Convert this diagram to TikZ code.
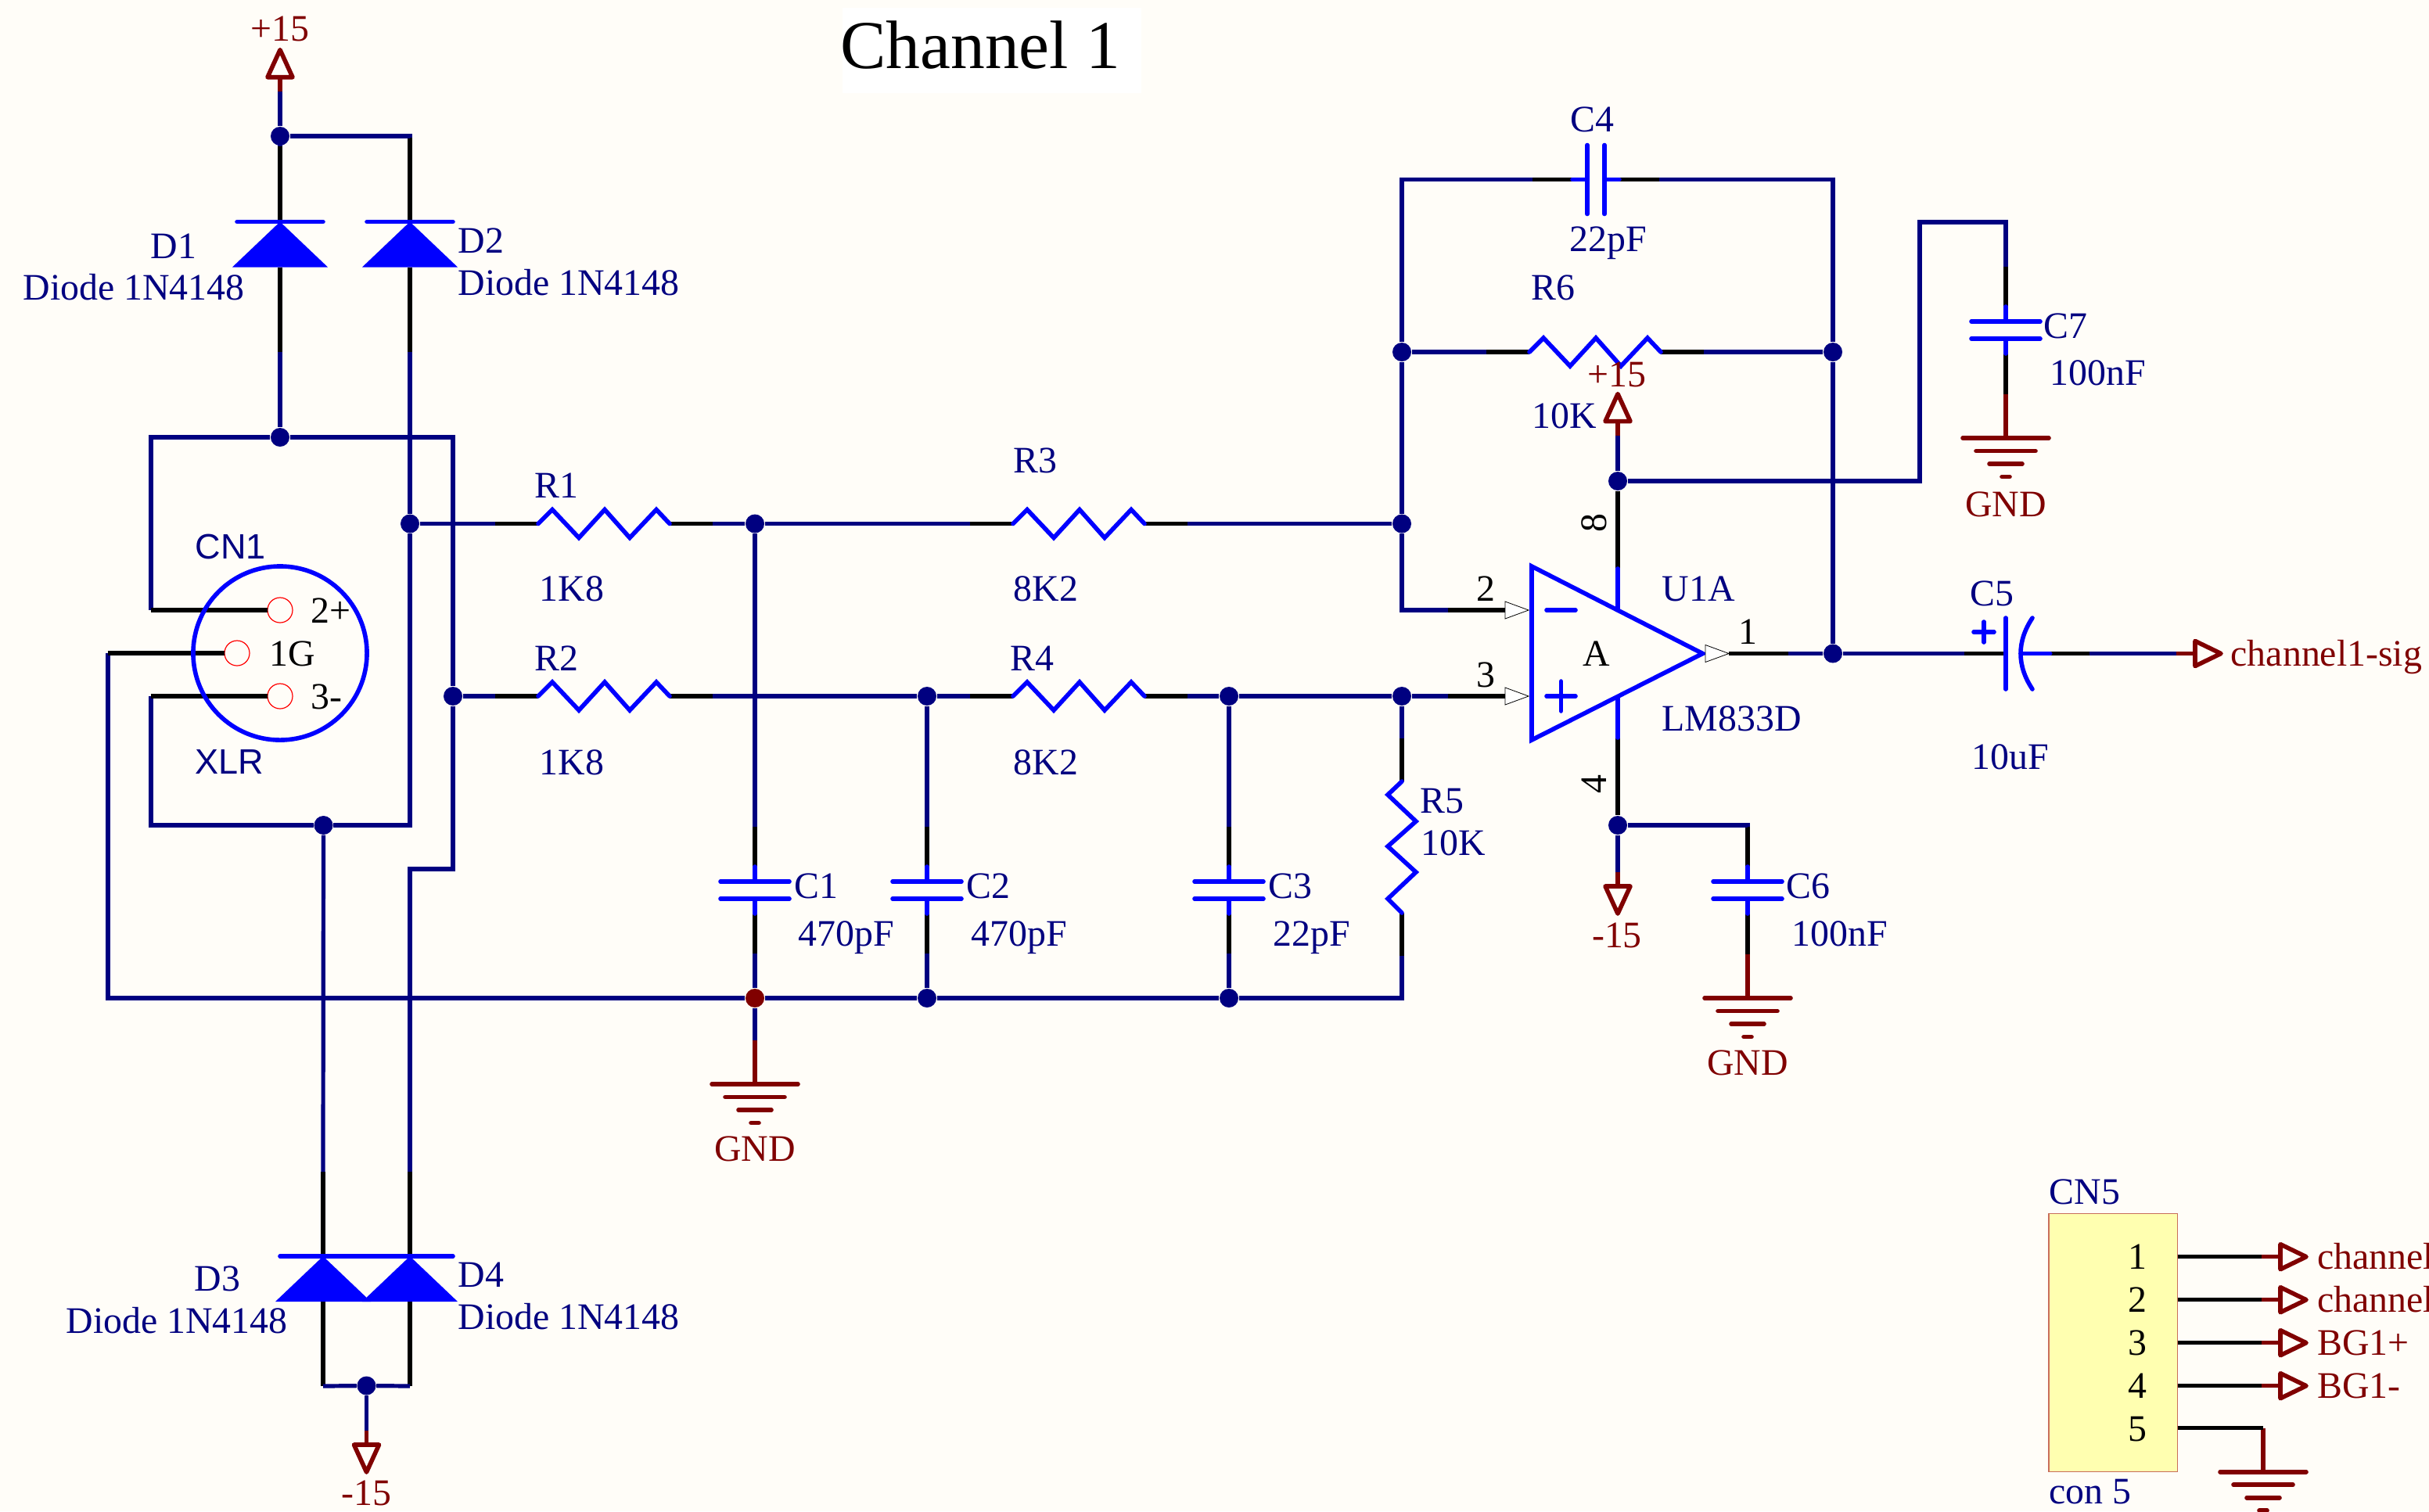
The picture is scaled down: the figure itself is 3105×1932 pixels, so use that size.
\documentclass[tikz,border=0pt]{standalone}
\usepackage{xcolor}
\usepackage{fontspec}
\setmainfont{Liberation Serif}
\setsansfont{Liberation Sans}
\usepackage{tikz}
\definecolor{wirecol}{RGB}{0,0,128}
\definecolor{netcol}{RGB}{128,0,0}
\definecolor{pagecol}{RGB}{255,253,248}
\definecolor{cnfill}{RGB}{255,255,176}
\definecolor{cnline}{RGB}{200,110,90}

\begin{document}
\begin{tikzpicture}[
    x=0.01cm, y=-0.01cm,
    wire/.style={draw=wirecol, line width=0.052cm},
    lead/.style={draw=black, line width=0.052cm},
    part/.style={draw=blue, line width=0.056cm, line cap=round},
    stem/.style={draw=netcol, line width=0.052cm},
    netsym/.style={draw=netcol, line width=0.056cm, line cap=round, line join=round},
    dot/.style={circle, fill=wirecol, inner sep=0pt, minimum size=0.24cm},
    lbl/.style={inner sep=0pt, yshift=-0.005cm, text=wirecol, text height=0.31cm, text depth=0pt, font=\fontsize{13.6}{15}\selectfont},
    dlbl/.style={lbl, anchor=west},
    sans/.style={lbl, anchor=west, font=\sffamily\fontsize{12.8}{15}\selectfont},
    net/.style={lbl, text=netcol},
    num/.style={lbl, text=black},
    hole/.style={circle, draw=red, line width=0.012cm, inner sep=0pt, outer sep=0pt, minimum size=0.32cm},
    res/.pic={
        \draw[lead] (-55,0) coordinate (-a) -- (0,0);
        \draw[lead] (168,0) -- (223,0) coordinate (-b);
        \draw[part] (0,0) -- (18,-18) -- (52,18) -- (85,-18) -- (117,18) -- (151,-18) -- (168,0);
    },
    capac/.pic={
        \draw[lead] (0,-81) coordinate (-a) -- (0,-30);
        \draw[lead] (0,30) -- (0,81) coordinate (-b);
        \draw[part] (0,-30) -- (0,-11) (-44,-11) -- (44,-11) (-44,11) -- (44,11) (0,11) -- (0,30);
    },
    diode/.pic={
        \draw[lead] (0,-108) coordinate (-a) -- (0,0);
        \draw[lead] (0,58) -- (0,166) coordinate (-b);
        \fill[blue] (0,0) -- (-61,58) -- (61,58) -- cycle;
        \draw[part] (-55,0) -- (55,0);
    },
    gnd/.pic={
        \draw[stem] (0,-56) coordinate (-a) -- (0,0);
        \foreach \y/\w in {0/55,16.5/38,33/21,49.5/5} \draw[netsym] (-\w,\y) -- (\w,\y);
    },
    port/.pic={
        \draw[stem] (0,18) coordinate (-a) -- (0,0);
        \draw[netsym] (-16,0) -- (16,0) -- (0,-35) -- cycle;
    },
    sigport/.pic={
        \draw[stem] (-24,0) coordinate (-a) -- (0,0);
        \draw[netsym] (0,-16) -- (33,0) -- (0,16) -- cycle;
    },
    tick/.pic={
        \draw[draw=black, fill=white, line width=0.008cm] (0,-11) -- (30,0) -- (0,11) -- cycle;
    }
]
    \fill[pagecol] (0,0) rectangle (3105,1932);
    \useasboundingbox (0,0) rectangle (3105,1932);

    \fill[white] (1077,10) rectangle (1459,119);
    \node[inner sep=0pt, font=\fontsize{24.9}{28}\selectfont] at (1253,58) (title) {Channel 1};

    \pic (dio1) at (358,283.5) {diode};
    \pic (dio2) at (524,283.5) {diode};
    \pic (dio3) at (413,1606) {diode};
    \pic (dio4) at (524,1606) {diode};
    \pic (res1) at (688,669.5) {res};
    \pic (res2) at (688,890) {res};
    \pic (res3) at (1295,669.5) {res};
    \pic (res4) at (1295,890) {res};
    \pic[rotate=90] (res5) at (1792,1167) {res};
    \pic (res6) at (1955,450) {res};
    \pic (cap1) at (965,1138) {capac};
    \pic (cap2) at (1185,1138) {capac};
    \pic (cap3) at (1571,1138) {capac};
    \pic[rotate=90] (cap4) at (2040,229.5) {capac};
    \pic (cap6) at (2234,1138) {capac};
    \pic (cap7) at (2564,422) {capac};
    \pic (gnd1) at (965,1386) {gnd};
    \pic (gnd2) at (2234,1276) {gnd};
    \pic (gnd3) at (2564,560) {gnd};
    \pic (gnd4) at (2893,1881.7) {gnd};
    \pic (pwr1) at (358,98.7) {port};
    \pic[rotate=180] (pwr2) at (468.5,1847) {port};
    \pic (pwr3) at (2068,538.6) {port};
    \pic[rotate=180] (pwr4) at (2068,1133) {port};
    \pic (sigout) at (2806,835.5) {sigport};

    \node[dot] at (358,174) (ja) {};
    \node[dot] at (358,559) (jb) {};
    \node[dot] at (524,669.5) (jc) {};
    \node[dot] at (579,890) (jd) {};
    \node[dot] at (413.5,1055) (je) {};
    \node[dot] at (468.5,1771.5) (jf) {};
    \node[dot] at (965,669.5) (jg) {};
    \node[dot] at (1185,890) (jh) {};
    \node[dot] at (1571,890) (ji) {};
    \node[dot] at (1792,890) (jj) {};
    \node[dot] at (1792,669.5) (jk) {};
    \node[dot] at (1792,450) (jl) {};
    \node[dot] at (2343,450) (jm) {};
    \node[dot] at (2343,835.5) (jn) {};
    \node[dot] at (2068,615) (jo) {};
    \node[dot] at (2068,1055) (jp) {};
    \node[dot, fill=netcol] at (965,1276) (jq) {};
    \node[dot] at (1185,1276) (jr) {};
    \node[dot] at (1571,1276) (js) {};

    \coordinate (cn2) at (193,780);
    \coordinate (cn1) at (138,835);
    \coordinate (cn3) at (193,890);
    \coordinate (ua) at (1851,780);
    \coordinate (ub) at (1851,890);
    \coordinate (uc) at (1924,780);
    \coordinate (ud) at (1924,890);
    \coordinate (ue) at (2210,835.5);
    \coordinate (uf) at (2286,835.5);
    \coordinate (ug) at (2511,835.5);
    \coordinate (uh) at (2068,727);
    \coordinate (ui) at (2068,779);
    \coordinate (uj) at (2068,891);
    \coordinate (uk) at (2068,943);
    \coordinate (bypass) at (2454,284);
    \coordinate (cfa) at (2564,835.5);
    \coordinate (cfb) at (2620.7,835.5);
    \coordinate (cfc) at (2671,835.5);

    \draw[wire] (pwr1-a) -- (ja);
    \draw[wire] (ja) -| (dio2-a);
    \draw[wire] (ja) -- (dio1-a);
    \draw[wire] (dio1-b) -- (jb);
    \draw[wire] (dio2-b) -- (jc);
    \draw[wire] (jb) -| (jd);
    \draw[wire] (jb) -| (cn2);
    \draw[wire] (jd) -- ++(0,221) -| (dio4-a);
    \draw[wire] (cn3) |- (je);
    \draw[wire] (je) -| (jc);
    \draw[wire] (je) -- (dio3-a);
    \draw[wire] (dio3-b) -- (jf);
    \draw[wire] (dio4-b) -- (jf);
    \draw[wire] (jf) -- (pwr2-a);
    \draw[wire] (cn1) |- (jq);
    \draw[wire] (jq) -- (jr);
    \draw[wire] (jr) -- (js);
    \draw[wire] (js) -| (res5-a);
    \draw[wire] (jc) -- (res1-a);
    \draw[wire] (res1-b) -- (jg);
    \draw[wire] (jg) -- (res3-a);
    \draw[wire] (res3-b) -- (jk);
    \draw[wire] (jd) -- (res2-a);
    \draw[wire] (res2-b) -- (jh);
    \draw[wire] (jh) -- (res4-a);
    \draw[wire] (res4-b) -- (ji);
    \draw[wire] (ji) -- (jj);
    \draw[wire] (jj) -- (ub);
    \draw[wire] (jj) -- (res5-b);
    \draw[wire] (jg) -- (cap1-a);
    \draw[wire] (cap1-b) -- (jq);
    \draw[wire] (jq) -- (gnd1-a);
    \draw[wire] (jh) -- (cap2-a);
    \draw[wire] (cap2-b) -- (jr);
    \draw[wire] (ji) -- (cap3-a);
    \draw[wire] (cap3-b) -- (js);
    \draw[wire] (jk) -- (jl);
    \draw[wire] (jk) |- (ua);
    \draw[wire] (jl) |- (cap4-a);
    \draw[wire] (cap4-b) -| (jm);
    \draw[wire] (jl) -- (res6-a);
    \draw[wire] (res6-b) -- (jm);
    \draw[wire] (jm) -- (jn);
    \draw[wire] (uf) -- (jn);
    \draw[wire] (jn) -- (ug);
    \draw[wire] (pwr3-a) -- (jo);
    \draw[wire] (jo) -| (bypass) -| (cap7-a);
    \draw[wire] (jp) -| (cap6-a);
    \draw[wire] (jp) -- (pwr4-a);
    \draw[wire] (cfc) -- (sigout-a);

    \draw[lead] (ua) -- (uc);
    \draw[lead] (ub) -- (ud);
    \draw[lead] (ue) -- (uf);
    \draw[lead] (ug) -- (cfa);
    \draw[lead] (cfb) -- (cfc);
    \draw[lead] (jo) -- (uh);
    \draw[lead] (uk) -- (jp);
    \draw[lead] (cap6-b) -- (gnd2-a);
    \draw[lead] (cap7-b) -- (gnd3-a);

    \draw[part] (uh) -- (ui);
    \draw[part] (uj) -- (uk);
    \draw[part] (1958,724) -- (2176.5,835.5) -- (1958,946) -- cycle;
    \draw[part] (1977,780) -- (2014,780);
    \draw[part] (1977,890) -- (2014,890) (1995.5,871) -- (1995.5,909);
    \pic (tk2) at (uc) {tick};
    \pic (tk3) at (ud) {tick};
    \pic (tk1) at (2180,835.5) {tick};

    \draw[part] (2564,790) -- (2564,881);
    \draw[part] (2598,790) .. controls (2578,820) and (2578,851) .. (2598,881);
    \draw[part] (2583.5,835.5) -- (cfb);
    \draw[part] (2523,808) -- (2549,808) (2536,795) -- (2536,821);

    \node[hole] at (358,780) (pin2) {};
    \node[hole] at (303,835) (pin1) {};
    \node[hole] at (358,890) (pin3) {};
    \draw[lead] (cn2) -- (pin2);
    \draw[lead] (cn1) -- (pin1);
    \draw[lead] (cn3) -- (pin3);
    \node[circle, draw=blue, line width=0.056cm, inner sep=0pt, outer sep=0pt, minimum size=2.22cm] at (358,835) (xlr) {};

    \node[num, anchor=west] at (397,780) (t2) {2+};
    \node[num, anchor=west] at (344,835) (t1) {1G};
    \node[num, anchor=west] at (397,890) (t3) {3-};
    \node[sans] at (249,698) (cn1name) {CN1};
    \node[sans] at (249,973) (cn1type) {XLR};

    \node[net] at (358,36) (vp1) {+15};
    \node[net] at (468.5,1908) (vm1) {-15};
    \node[net] at (2067,478) (vp2) {+15};
    \node[net] at (2067,1195) (vm2) {-15};
    \node[net] at (965,1468) (glbl1) {GND};
    \node[net] at (2234,1358) (glbl2) {GND};
    \node[net] at (2564,644) (glbl3) {GND};
    \node[net, anchor=west] at (2851,835) (sigl) {channel1-sig};

    \node[lbl] at (222,314) (d1) {D1};
    \node[dlbl] at (29,367) (d1v) {Diode 1N4148};
    \node[lbl, anchor=west] at (585,307) (d2) {D2};
    \node[dlbl] at (585,361) (d2v) {Diode 1N4148};
    \node[lbl] at (278,1634) (d3) {D3};
    \node[dlbl] at (84,1688) (d3v) {Diode 1N4148};
    \node[lbl, anchor=west] at (585,1629) (d4) {D4};
    \node[dlbl] at (585,1683) (d4v) {Diode 1N4148};

    \node[lbl] at (711,620) (r1) {R1};
    \node[lbl] at (731,752) (r1v) {1K8};
    \node[lbl] at (711,841) (r2) {R2};
    \node[lbl] at (731,974) (r2v) {1K8};
    \node[lbl] at (1323,588) (r3) {R3};
    \node[lbl] at (1337,752) (r3v) {8K2};
    \node[lbl] at (1319,841) (r4) {R4};
    \node[lbl] at (1337,974) (r4v) {8K2};
    \node[lbl, anchor=west] at (1815,1023) (r5) {R5};
    \node[lbl, anchor=west] at (1816,1077) (r5v) {10K};
    \node[lbl] at (1985,367) (r6) {R6};
    \node[lbl] at (2000,531) (r6v) {10K};

    \node[lbl, anchor=west] at (1015,1132) (c1) {C1};
    \node[lbl, anchor=west] at (1020,1193) (c1v) {470pF};
    \node[lbl, anchor=west] at (1235,1132) (c2) {C2};
    \node[lbl, anchor=west] at (1241,1193) (c2v) {470pF};
    \node[lbl, anchor=west] at (1621,1132) (c3) {C3};
    \node[lbl, anchor=west] at (1627,1193) (c3v) {22pF};
    \node[lbl] at (2035,152) (c4) {C4};
    \node[lbl] at (2056,305) (c4v) {22pF};
    \node[lbl] at (2546,758) (c5) {C5};
    \node[lbl] at (2570,967) (c5v) {10uF};
    \node[lbl, anchor=west] at (2283,1132) (c6) {C6};
    \node[lbl, anchor=west] at (2290,1193) (c6v) {100nF};
    \node[lbl, anchor=west] at (2612,416) (c7) {C7};
    \node[lbl, anchor=west] at (2620,476.5) (c7v) {100nF};

    \node[lbl, anchor=west] at (2124,752) (u1) {U1A};
    \node[lbl, anchor=west] at (2124,918) (u1v) {LM833D};
    \node[num] at (2041,835) (ua1) {A};
    \node[num] at (1899.5,752) (pa2) {2};
    \node[num] at (1899.5,862) (pa3) {3};
    \node[num] at (2234,807) (pa1) {1};
    \node[num, rotate=90] at (2038,668) (pa8) {8};
    \node[num, rotate=90] at (2038,1002) (pa4) {4};

    \node[draw=cnline, fill=cnfill, line width=0.012cm, outer sep=0pt, minimum width=1.646cm, minimum height=3.3cm] at (2701.3,1716.7) (cn5) {};
    \node[lbl, anchor=west] at (2619,1523) (cn5name) {CN5};
    \node[lbl, anchor=west] at (2619,1906) (cn5type) {con 5};
    \foreach \i/\t in {1/channel,2/channel,3/BG1+,4/BG1-} {
        \pgfmathsetmacro{\py}{1551.7+55*\i}
        \pic (cnport\i) at (2915,\py) {sigport};
        \draw[lead] (cn5.east |- cnport\i-a) -- (cnport\i-a);
        \node[num] at (2732,\py) (cnnum\i) {\i};
        \node[net, anchor=west] at (2961.7,\py) (cnnet\i) {\t};
    }
    \node[num] at (2732,1826.7) (cnnum5) {5};
    \draw[lead] (cn5.east |- gnd4-a) -- (gnd4-a);
\end{tikzpicture}
\end{document}
